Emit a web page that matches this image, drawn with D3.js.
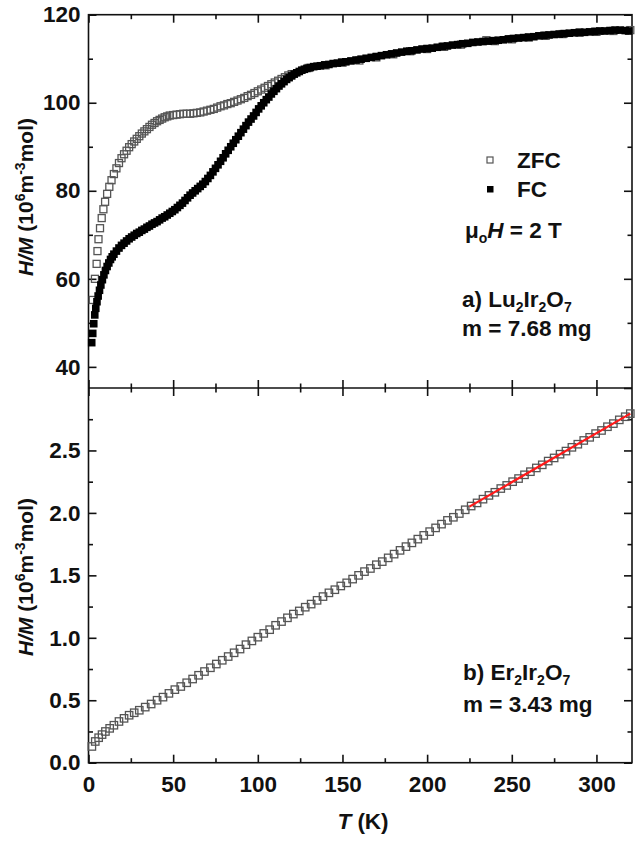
<!DOCTYPE html>
<html>
<head>
<meta charset="utf-8">
<script src="https://cdn.jsdelivr.net/npm/d3@7"></script>
<style>
body{margin:0;background:#fff}
text{font-family:"Liberation Sans",Arial,sans-serif;font-weight:bold;fill:#111}
.axis text{font-size:22.5px}
.lab{font-size:22.5px}
.ttl{font-size:21px}
</style>
</head>
<body>
<div id="chart"></div>
<script>
// top panel a) Lu2Ir2O7, [T, H/M]
var zfcTop = [[2.5,55.2],[3.8,60.0],[4.8,63.4],[5.3,66.3],[5.9,69.0],[6.8,71.5],[7.8,73.8],[8.8,75.8],[9.8,77.5],[11,79.3],
  [12.3,80.9],[13.6,82.4],[15,83.8],[16.5,85.1],[18,86.3],[19.5,87.4],[21,88.3],[22.5,89.1],[24,89.9],[25.5,90.6],
  [27,91.2],[28.5,91.8],[30,92.4],[31.5,93.0],[33,93.5],[34.5,94.0],[36,94.5],[37.5,95.0],[39,95.4],[40.5,95.8],
  [42,96.1],[43.5,96.4],[45,96.7],[46.5,96.9],[48,97.1],[50,97.2],[52,97.3],[54,97.4],[56,97.5],[58,97.5],
  [60,97.5],[62,97.6],[64,97.7],[66,97.8],[68,98.0],[70,98.2],[72,98.4],[74,98.6],[76,98.9],[78,99.2],
  [80,99.4],[82,99.7],[84,99.9],[86,100.2],[88,100.5],[90,100.8],[92,101.1],[94,101.5],[96,101.8],[98,102.2],
  [100,102.6],[102,103.0],[104,103.4],[106,103.8],[108,104.2],[110,104.6],[112,105.0],[114,105.4],[116,105.8],[118,106.2],
  [120,106.5],[130,107.9],[140,108.5],[150,109.1],[160,109.6],[170,110.3],[180,111.0],[190,111.7],[200,112.2],[210,112.7],
  [220,113.2],[235,114.2],[240,114.0],[250,114.4],[260,114.8],[270,115.2],[280,115.6],[290,115.9],[300,116.1],[310,116.3],[320,116.5]];

var fcTop = [[1.9,45.5],[2.5,47.6],[3.1,49.8],[3.7,51.8],[4.3,53.3],[5,54.8],[5.7,56.1],[6.5,57.4],[7.3,58.6],[8.2,59.8],
  [9.1,60.9],[10,61.9],[11,62.8],[12,63.6],[13,64.4],[14,65.0],[15,65.6],[16.5,66.3],[18,67.0],[19.5,67.6],
  [21,68.1],[22.5,68.6],[24,69.1],[25.5,69.5],[27,69.9],[28.5,70.3],[30,70.6],[31.5,71.0],[33,71.3],[34.5,71.7],
  [36,72.0],[37.5,72.4],[39,72.7],[40.5,73.0],[42,73.4],[43.5,73.8],[45,74.1],[46.5,74.5],[48,74.9],[49.5,75.3],
  [51,75.7],[52.5,76.2],[54,76.7],[55.5,77.2],[57,77.8],[58.5,78.4],[60,79.0],[61.5,79.5],[63,80.0],[64.5,80.5],
  [66,81.0],[67.5,81.5],[69,82.1],[70.5,82.8],[72,83.5],[73.5,84.3],[75,85.1],[76.5,85.9],[78,86.7],[79.5,87.5],
  [81,88.4],[82.5,89.2],[84,90.0],[85.5,90.8],[87,91.6],[88.5,92.4],[90,93.2],[91.5,94.0],[93,94.8],[94.5,95.6],
  [96,96.3],[97.5,97.0],[99,97.8],[100.5,98.6],[102,99.3],[103.5,100.0],[105,100.7],[106.5,101.3],[108,102.0],[109.5,102.6],
  [111,103.2],[112.5,103.8],[114,104.3],[115.5,104.8],[117,105.3],[118.5,105.7],[120,106.1],[121.5,106.5],[123,106.8],[124.5,107.1],
  [126,107.4],[127.5,107.6],[129,107.8],[131,108.0],[133,108.2],[135,108.3],[137,108.4],[139.5,108.6],[142,108.7],[144.5,108.9],
  [147,109.0],[149.5,109.2],[152,109.3],[155,109.5],[158,109.7],[161,109.9],[164,110.1],[167,110.3],[170,110.5],[173,110.7],
  [176,110.9],[179,111.1],[182,111.3],[185,111.5],[188,111.7],[191,111.8],[194,112.0],[197,112.2],[200,112.3],[203,112.4],
  [206,112.6],[209,112.8],[212,112.9],[215,113.1],[218,113.2],[221,113.4],[224,113.5],[227,113.7],[230,113.8],[233,113.9],
  [236,114.0],[239,114.1],[242,114.2],[245,114.3],[248,114.5],[251,114.6],[254,114.7],[257,114.8],[260,114.9],[263,115.0],
  [266,115.2],[269,115.3],[272,115.4],[275,115.5],[278,115.6],[281,115.7],[284,115.8],[287,115.9],[290,116.0],[293,116.0],
  [296,116.1],[299,116.2],[302,116.3],[305,116.3],[308,116.4],[311,116.5],[314,116.5],[317,116.4],[319,116.3]];

// bottom panel b) Er2Ir2O7
var zfcBot = [[2,0.13],[4,0.17],[6,0.20],[8,0.225],[10,0.25],[12.5,0.275],[15,0.30],[18,0.33],[21,0.355],[24,0.38],
  [27,0.40],[30,0.42],[33.5,0.445],[37,0.47],[40.5,0.50],[44,0.525],[47.5,0.555],[51,0.585],[54.5,0.61],[58,0.64],
  [61.5,0.67],[65,0.70],[68.5,0.73],[72,0.76],[75.5,0.79],[79,0.82],[82.5,0.85],[86,0.88],[89.5,0.91],[93,0.945],
  [96.5,0.975],[100,1.005],[103.5,1.035],[107,1.065],[110.5,1.10],[114,1.13],[117.5,1.16],[121,1.19],[124.5,1.215],[128,1.245],
  [131.5,1.27],[135,1.30],[138.5,1.33],[142,1.36],[145.5,1.385],[149,1.415],[152.5,1.44],[156,1.47],[159.5,1.50],[163,1.53],
  [166.5,1.555],[170,1.585],[173.5,1.61],[177,1.64],[180.5,1.67],[184,1.70],[187.5,1.73],[191,1.76],[194.5,1.79],[198,1.82],
  [201.5,1.85],[205,1.88],[208.5,1.91],[212,1.94],[215.5,1.965],[219,1.995],[222.5,2.025],[226,2.055],[229.5,2.08],[233,2.11],
  [236.5,2.14],[240,2.165],[243.5,2.195],[247,2.22],[250.5,2.25],[254,2.275],[257.5,2.305],[261,2.33],[264.5,2.36],[268,2.385],
  [271.5,2.415],[275,2.44],[278.5,2.47],[282,2.495],[285.5,2.525],[289,2.55],[292.5,2.58],[296,2.605],[299.5,2.635],[303,2.66],
  [306.5,2.69],[310,2.715],[313.5,2.745],[317,2.77],[320,2.795]];
var fitBot = [[225,2.05],[320,2.795]];

var xTicks = [0,50,100,150,200,250,300];
var xMinor = [25,75,125,175,225,275];
var yTopTicks = [40,60,80,100,120];
var yTopMinor = [50,70,90,110];
var yBotTicks = [0,0.5,1.0,1.5,2.0,2.5,3.0];
var yBotMinor = [0.25,0.75,1.25,1.75,2.25,2.75];

var W = 636, H = 841;
var xL = 88.5, xR = 632, yT = 14.7, yM = 388, yB = 762.7;

var svg = d3.select("#chart").append("svg").attr("width", W).attr("height", H);

var x = d3.scaleLinear().domain([0, 321]).range([xL, xR]);
var yTop = d3.scaleLinear().domain([35.2, 120]).range([yM, yT]);
var yBot = d3.scaleLinear().domain([0, 3]).range([yB, yM]);

function drawAxis(axis, tx, ty, labels) {
  var g = svg.append("g").attr("class", "axis")
    .attr("transform", "translate(" + tx + "," + ty + ")").call(axis);
  g.select(".domain").remove();
  g.selectAll("line").attr("stroke", "#111").attr("stroke-width", 1.6);
  if (!labels) g.selectAll("text").remove();
  return g;
}

// ticks point inward everywhere
var maj = -8, mnr = -4.5;
// top panel
drawAxis(d3.axisLeft(yTop).tickValues(yTopTicks).tickSize(maj).tickPadding(8), xL, 0, true);
drawAxis(d3.axisLeft(yTop).tickValues(yTopMinor).tickSize(mnr), xL, 0, false);
drawAxis(d3.axisRight(yTop).tickValues(yTopTicks).tickSize(maj), xR, 0, false);
drawAxis(d3.axisRight(yTop).tickValues(yTopMinor).tickSize(mnr), xR, 0, false);
drawAxis(d3.axisTop(x).tickValues(xTicks).tickSize(maj), 0, yT, false);
drawAxis(d3.axisTop(x).tickValues(xMinor).tickSize(mnr), 0, yT, false);
drawAxis(d3.axisBottom(x).tickValues(xTicks).tickSize(maj), 0, yM, false);
drawAxis(d3.axisBottom(x).tickValues(xMinor).tickSize(mnr), 0, yM, false);
// bottom panel
drawAxis(d3.axisLeft(yBot).tickValues(yBotTicks.slice(0, 6)).tickSize(maj).tickPadding(8)
  .tickFormat(d3.format(".1f")), xL, 0, true);
drawAxis(d3.axisLeft(yBot).tickValues(yBotMinor).tickSize(mnr), xL, 0, false);
drawAxis(d3.axisRight(yBot).tickValues(yBotTicks).tickSize(maj), xR, 0, false);
drawAxis(d3.axisRight(yBot).tickValues(yBotMinor).tickSize(mnr), xR, 0, false);
drawAxis(d3.axisTop(x).tickValues(xTicks).tickSize(maj), 0, yM, false);
drawAxis(d3.axisTop(x).tickValues(xMinor).tickSize(mnr), 0, yM, false);
drawAxis(d3.axisBottom(x).tickValues(xTicks).tickSize(maj).tickPadding(13.5), 0, yB, true);
drawAxis(d3.axisBottom(x).tickValues(xMinor).tickSize(mnr), 0, yB, false);

// frame
svg.append("rect").attr("x", xL).attr("y", yT).attr("width", xR - xL).attr("height", yB - yT)
  .attr("fill", "none").attr("stroke", "#111").attr("stroke-width", 1.6);
svg.append("line").attr("x1", xL).attr("x2", xR).attr("y1", yM).attr("y2", yM)
  .attr("stroke", "#111").attr("stroke-width", 1.6);

// data
var s = 7;
svg.append("g").selectAll("rect").data(zfcTop).join("rect")
  .attr("x", d => x(d[0]) - s / 2).attr("y", d => yTop(d[1]) - s / 2)
  .attr("width", s).attr("height", s)
  .attr("fill", "none").attr("stroke", "#555").attr("stroke-width", 1.3);
svg.append("g").selectAll("rect").data(fcTop).join("rect")
  .attr("x", d => x(d[0]) - 3.8).attr("y", d => yTop(d[1]) - 3.8)
  .attr("width", 7.6).attr("height", 7.6).attr("fill", "#000");
svg.append("g").selectAll("rect").data(zfcBot).join("rect")
  .attr("x", d => x(d[0]) - 3.7).attr("y", d => yBot(d[1]) - 3.7)
  .attr("width", 7.4).attr("height", 7.4)
  .attr("fill", "none").attr("stroke", "#555").attr("stroke-width", 1.3);
svg.append("path").datum(fitBot)
  .attr("fill", "none").attr("stroke", "#ff1a1a").attr("stroke-width", 2.2)
  .attr("d", d3.line().x(d => x(d[0])).y(d => yBot(d[1])));

// legend
svg.append("rect").attr("x", 487).attr("y", 157).attr("width", 6).attr("height", 6)
  .attr("fill", "none").attr("stroke", "#555").attr("stroke-width", 1.2);
svg.append("rect").attr("x", 487).attr("y", 186).attr("width", 6.5).attr("height", 6.5).attr("fill", "#000");
svg.append("text").attr("class", "lab").attr("x", 517).attr("y", 168).text("ZFC");
svg.append("text").attr("class", "lab").attr("x", 517).attr("y", 197).text("FC");

function sub(parts, x0, y0) {
  var tx = svg.append("text").attr("class", "lab").attr("x", x0).attr("y", y0);
  parts.forEach(function (p) {
    var ts = tx.append("tspan").text(p[0]);
    if (p[1] == "sub") ts.attr("font-size", 14).attr("dy", 4.5);
    else if (p[1] == "back") ts.attr("dy", -4.5);
    if (p[2]) ts.attr("font-style", "italic");
  });
  return tx;
}
sub([["\u03bc"], ["o", "sub"], ["H", "back", true], [" = 2 T"]], 465, 238);
sub([["a) Lu"], ["2", "sub"], ["Ir", "back"], ["2", "sub"], ["O", "back"], ["7", "sub"]], 462, 307);
svg.append("text").attr("class", "lab").attr("x", 462).attr("y", 336).text("m = 7.68 mg");
sub([["b) Er"], ["2", "sub"], ["Ir", "back"], ["2", "sub"], ["O", "back"], ["7", "sub"]], 463, 680);
svg.append("text").attr("class", "lab").attr("x", 463).attr("y", 712).text("m = 3.43 mg");

// axis titles
function yTitle(cy) {
  var t = svg.append("text").attr("class", "ttl").attr("text-anchor", "middle")
    .attr("transform", "translate(33," + cy + ") rotate(-90)");
  t.append("tspan").attr("font-style", "italic").text("H/M");
  t.append("tspan").text(" (10");
  t.append("tspan").attr("font-size", 14).attr("dy", -8).text("6");
  t.append("tspan").attr("dy", 8).text("m");
  t.append("tspan").attr("font-size", 14).attr("dy", -8).text("-3");
  t.append("tspan").attr("dy", 8).text("mol)");
}
yTitle(197);
yTitle(577);

var xt = svg.append("text").attr("class", "lab").attr("text-anchor", "middle")
  .attr("x", 363).attr("y", 829);
xt.append("tspan").attr("font-style", "italic").text("T");
xt.append("tspan").text(" (K)");
</script>
</body>
</html>
